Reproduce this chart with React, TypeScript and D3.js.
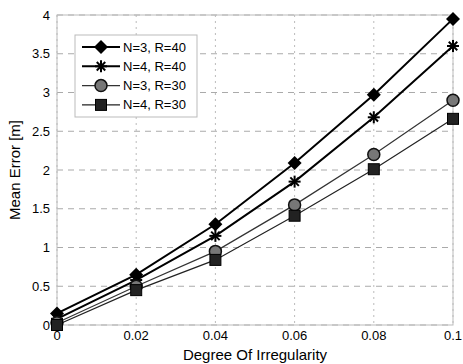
import React from "react";
import * as d3 from "d3";

const irregularity = [0, 0.02, 0.04, 0.06, 0.08, 0.1];
const n3r40 = [0.15, 0.65, 1.3, 2.09, 2.97, 3.95];
const n4r40 = [0.08, 0.58, 1.15, 1.85, 2.68, 3.6];
const n3r30 = [0.03, 0.5, 0.95, 1.55, 2.2, 2.9];
const n4r30 = [0.0, 0.45, 0.84, 1.41, 2.01, 2.66];
const xTicks = [0, 0.02, 0.04, 0.06, 0.08, 0.1];
const yTicks = [0, 0.5, 1, 1.5, 2, 2.5, 3, 3.5, 4];

const series = [
  { name: "N=3, R=40", values: n3r40, marker: "diamond", stroke: "#000", width: 2 },
  { name: "N=4, R=40", values: n4r40, marker: "star", stroke: "#000", width: 2 },
  { name: "N=3, R=30", values: n3r30, marker: "circle", stroke: "#333", width: 1.2 },
  { name: "N=4, R=30", values: n4r30, marker: "square", stroke: "#222", width: 1.2 },
];

const W = 463;
const H = 364;
const margin = { top: 15, right: 10, bottom: 39, left: 57 };
const font = "'Liberation Sans', Arial, sans-serif";

function Marker({ kind, x, y }: { kind: string; x: number; y: number }) {
  if (kind === "diamond") {
    const s = 7;
    return <path d={`M${x},${y - s}L${x + s},${y}L${x},${y + s}L${x - s},${y}Z`} fill="#000" />;
  }
  if (kind === "star") {
    const r = 6;
    const lines = [0, 45, 90, 135].map((a) => {
      const t = (a * Math.PI) / 180;
      return (
        <line key={a} x1={x - r * Math.cos(t)} y1={y - r * Math.sin(t)} x2={x + r * Math.cos(t)} y2={y + r * Math.sin(t)} stroke="#000" strokeWidth={2} />
      );
    });
    return <g>{lines}</g>;
  }
  if (kind === "circle") {
    return <circle cx={x} cy={y} r={6} fill="#777" stroke="#111" strokeWidth={1.5} />;
  }
  return <rect x={x - 5.5} y={y - 5.5} width={11} height={11} fill="#222" stroke="#000" />;
}

export default function App() {
  const iw = W - margin.left - margin.right;
  const ih = H - margin.top - margin.bottom;
  const x = d3.scaleLinear().domain([0, 0.1]).range([0, iw]);
  const y = d3.scaleLinear().domain([0, 4]).range([ih, 0]);
  const line = d3
    .line<number>()
    .x((_, i) => x(irregularity[i]))
    .y((d) => y(d));

  return (
    <svg width={W} height={H} style={{ position: "absolute", left: 0, top: 0, background: "#fff" }} fontFamily={font}>
      <g transform={`translate(${margin.left},${margin.top})`}>
        {/* grid */}
        {yTicks.map((t) => (
          <line key={"gy" + t} x1={0} x2={iw} y1={y(t)} y2={y(t)} stroke="#aaa" strokeWidth={1} strokeDasharray="6,5" />
        ))}
        {xTicks.map((t) => (
          <line key={"gx" + t} x1={x(t)} x2={x(t)} y1={0} y2={ih} stroke="#bbb" strokeWidth={1} strokeDasharray="2,4" />
        ))}
        <rect x={0} y={0} width={iw} height={ih} fill="none" stroke="#bbb" strokeWidth={1} />

        {/* ticks */}
        {yTicks.map((t) => (
          <text key={"ty" + t} x={-7} y={y(t)} dy="0.35em" textAnchor="end" fontSize={13}>
            {d3.format("~g")(t)}
          </text>
        ))}
        {xTicks.map((t) => (
          <text key={"tx" + t} x={x(t)} y={ih + 10} dy="0.35em" textAnchor="middle" fontSize={13}>
            {d3.format("~g")(t)}
          </text>
        ))}

        {/* lines */}
        {series.map((s) => (
          <path key={s.name} d={line(s.values) || ""} fill="none" stroke={s.stroke} strokeWidth={s.width} />
        ))}
        {series.map((s) =>
          s.values.map((v, i) => <Marker key={s.name + i} kind={s.marker} x={x(irregularity[i])} y={y(v)} />)
        )}

        {/* legend */}
        <g transform="translate(18,20)">
          <rect x={0} y={0} width={122} height={82} fill="#fff" stroke="#bbb" />
          {series.map((s, i) => {
            const ly = 12 + i * 19.3;
            return (
              <g key={s.name}>
                <line x1={7} x2={45} y1={ly} y2={ly} stroke={s.stroke} strokeWidth={s.width} />
                <Marker kind={s.marker} x={26} y={ly} />
                <text x={48} y={ly} dy="0.35em" fontSize={13}>
                  {s.name}
                </text>
              </g>
            );
          })}
        </g>
      </g>
      <text x={margin.left + iw / 2} y={355} textAnchor="middle" fontSize={15} dy="0.35em">
        Degree Of Irregularity
      </text>
      <text transform={`translate(15,${margin.top + ih / 2}) rotate(-90)`} textAnchor="middle" dy="0.35em" fontSize={15}>
        Mean Error [m]
      </text>
    </svg>
  );
}
